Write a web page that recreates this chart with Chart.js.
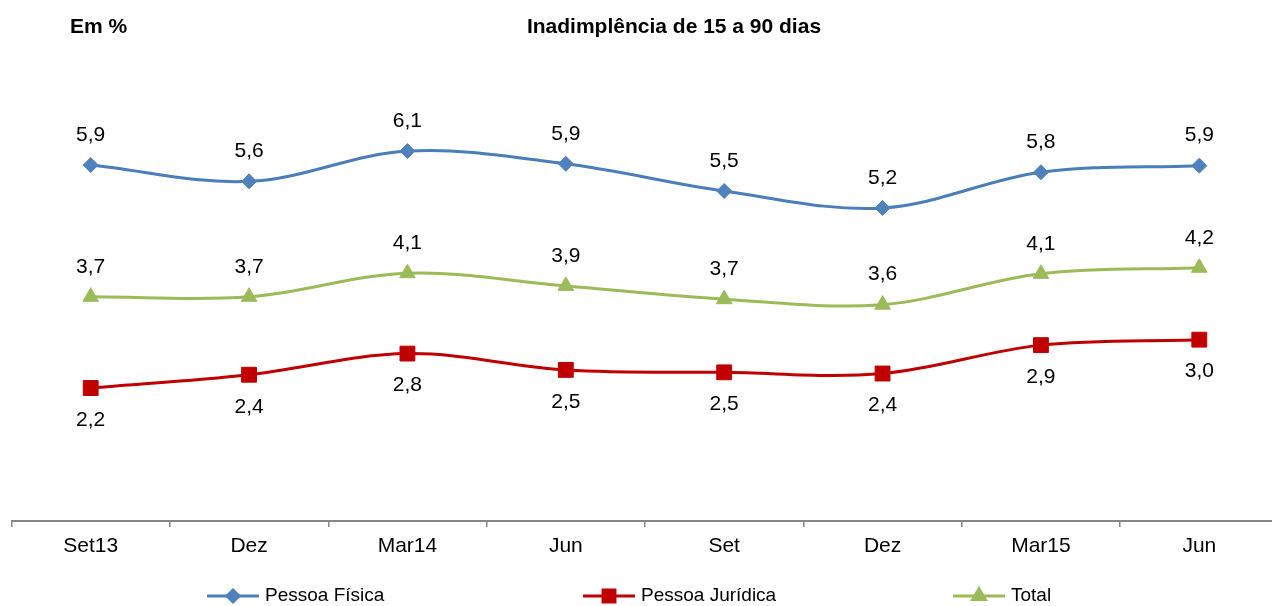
<!DOCTYPE html>
<html>
<head>
<meta charset="utf-8">
<script src="https://cdn.jsdelivr.net/npm/chart.js@4.4.1/dist/chart.umd.min.js"></script>
<style>
  html, body { margin: 0; padding: 0; background: #fff; overflow: hidden; }
  #wrap { position: relative; width: 1290px; height: 606px; }
</style>
</head>
<body>
<div id="wrap"><canvas id="myChart" width="1290" height="606"></canvas></div>
<script>
// dados
const categories = ["Set13", "Dez", "Mar14", "Jun", "Set", "Dez", "Mar15", "Jun"];
const pessoaFisica = [5.89, 5.62, 6.12, 5.91, 5.46, 5.18, 5.77, 5.88];
const pessoaJuridica = [2.20, 2.42, 2.77, 2.50, 2.46, 2.44, 2.91, 3.00];
const total = [3.71, 3.71, 4.10, 3.89, 3.67, 3.58, 4.09, 4.19];

const fontFamily = "'Liberation Sans', Arial, sans-serif";

// posição dos itens da legenda (x inicial de cada item)
const legendX = [207, 583, 953];

// rótulos de dados, título e legenda
const textPlugin = {
  id: "textPlugin",
  afterDatasetsDraw(chart) {
    const ctx = chart.ctx;
    ctx.save();
    ctx.font = "21px " + fontFamily;
    ctx.fillStyle = "#000";
    ctx.textAlign = "center";
    ctx.textBaseline = "middle";
    chart.data.datasets.forEach((ds, i) => {
      const meta = chart.getDatasetMeta(i);
      meta.data.forEach((pt, j) => {
        const txt = ds.data[j].toFixed(1).replace(".", ",");
        ctx.fillText(txt, pt.x, pt.y + ds.labelOffset);
      });
    });
    ctx.restore();
  },
  afterDraw(chart) {
    const ctx = chart.ctx;
    ctx.save();
    // título
    ctx.fillStyle = "#000";
    ctx.font = "bold 21px " + fontFamily;
    ctx.textBaseline = "middle";
    ctx.textAlign = "left";
    ctx.fillText("Em %", 70, 27);
    ctx.textAlign = "center";
    ctx.fillText("Inadimplência de 15 a 90 dias", 674, 27);

    // legenda
    const y = 596;
    chart.data.datasets.forEach((ds, i) => {
      const x = legendX[i];
      ctx.strokeStyle = ds.borderColor;
      ctx.lineWidth = 3;
      ctx.beginPath();
      ctx.moveTo(x, y);
      ctx.lineTo(x + 52, y);
      ctx.stroke();
      ctx.fillStyle = ds.pointBackgroundColor;
      ctx.strokeStyle = ds.pointBorderColor;
      Chart.helpers.drawPoint(ctx, {
        pointStyle: ds.pointStyle,
        radius: ds.pointRadius * 0.8,
        rotation: 0,
        borderWidth: 1
      }, x + 26, y);
      ctx.fillStyle = "#000";
      ctx.font = "19px " + fontFamily;
      ctx.textAlign = "left";
      ctx.fillText(ds.label, x + 58, y);
    });
    ctx.restore();
  }
};

const ctx = document.getElementById("myChart").getContext("2d");
new Chart(ctx, {
  type: "line",
  data: {
    labels: categories,
    datasets: [
      {
        label: "Pessoa Física",
        data: pessoaFisica,
        borderColor: "#4A7EBB",
        borderWidth: 3,
        pointStyle: "rectRot",
        pointRadius: 7.5,
        pointBackgroundColor: "#4F81BD",
        pointBorderColor: "#4F81BD",
        pointBorderWidth: 1,
        tension: 0.35,
        labelOffset: -30
      },
      {
        label: "Pessoa Jurídica",
        data: pessoaJuridica,
        borderColor: "#C00000",
        borderWidth: 3,
        pointStyle: "rect",
        pointRadius: 10.5,
        pointBackgroundColor: "#C00000",
        pointBorderColor: "#C00000",
        pointBorderWidth: 1,
        tension: 0.35,
        labelOffset: 32
      },
      {
        label: "Total",
        data: total,
        borderColor: "#9BBB59",
        borderWidth: 3,
        pointStyle: "triangle",
        pointRadius: 9,
        pointBackgroundColor: "#9BBB59",
        pointBorderColor: "#9BBB59",
        pointBorderWidth: 1,
        tension: 0.35,
        labelOffset: -30
      }
    ]
  },
  options: {
    responsive: false,
    animation: false,
    layout: { padding: { left: 10, right: 11, top: 37.5, bottom: 0 } },
    plugins: {
      legend: { display: false },
      title: { display: false },
      tooltip: { enabled: false }
    },
    scales: {
      x: {
        offset: true,
        afterFit(axis) { axis.height = 85; },
        grid: {
          display: true,
          drawOnChartArea: false,
          drawTicks: true,
          tickLength: 6,
          offset: true,
          color: "#868686",
          lineWidth: 1.5
        },
        border: { display: true, color: "#868686", width: 2 },
        ticks: {
          padding: 7,
          color: "#000",
          maxRotation: 0,
          autoSkip: false,
          font: { size: 21, family: fontFamily }
        }
      },
      y: {
        display: false,
        min: 0,
        max: 8
      }
    }
  },
  plugins: [textPlugin]
});
</script>
</body>
</html>
